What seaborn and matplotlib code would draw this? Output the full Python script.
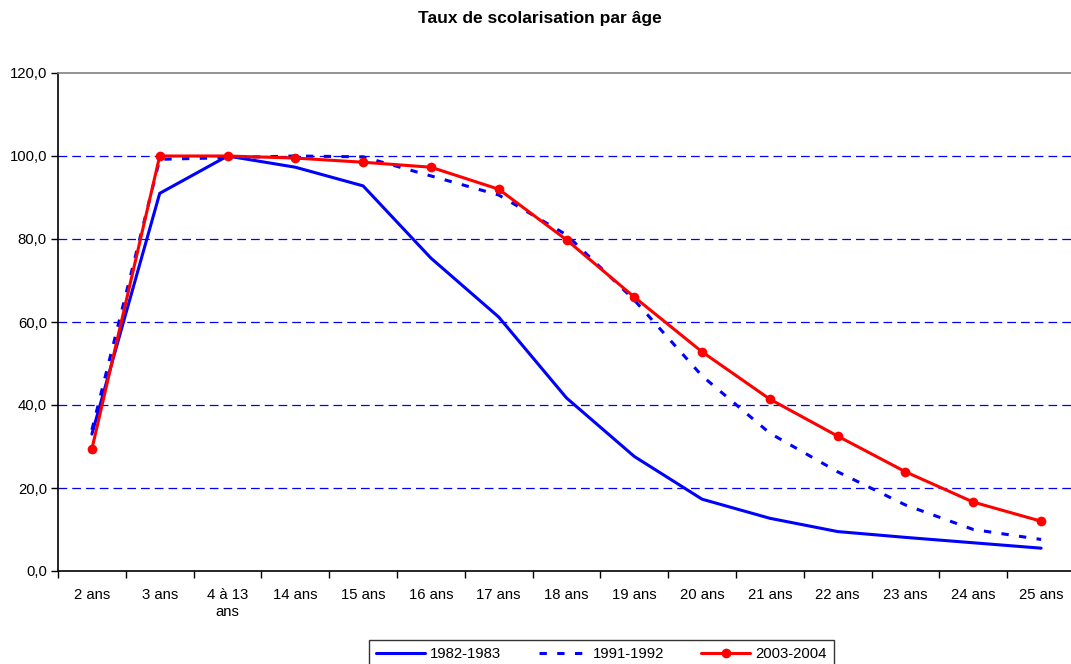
import numpy as np
import pandas as pd
import matplotlib
matplotlib.use("Agg")
import matplotlib.pyplot as plt
from matplotlib.ticker import FixedLocator, FuncFormatter
import seaborn as sns

categories = ["2 ans", "3 ans", "4 à 13\nans", "14 ans", "15 ans", "16 ans", "17 ans",
              "18 ans", "19 ans", "20 ans", "21 ans", "22 ans", "23 ans", "24 ans", "25 ans"]
s1982 = [33.0, 91.0, 100.0, 97.3, 92.8, 75.4, 61.2, 41.7, 27.6, 17.3, 12.7, 9.5, 8.1, 6.8, 5.5]
s1991 = [34.0, 99.2, 99.6, 100.0, 99.8, 95.2, 90.6, 81.0, 65.3, 47.0, 33.2, 23.9, 15.9, 10.0, 7.6]
s2003 = [29.4, 100.0, 100.0, 99.5, 98.5, 97.3, 92.0, 79.8, 66.0, 52.8, 41.4, 32.5, 23.9, 16.6, 12.0]
series_names = ["1982-1983", "1991-1992", "2003-2004"]
title = "Taux de scolarisation par âge"
yticks = [0, 20, 40, 60, 80, 100, 120]

sns.set_theme(style="white")
plt.rcParams["font.family"] = ["Liberation Sans", "DejaVu Sans"]
plt.rcParams["text.color"] = "black"
plt.rcParams["xtick.color"] = "black"
plt.rcParams["ytick.color"] = "black"

x = np.arange(len(categories))
df = pd.DataFrame({"x": np.tile(x, 3),
                   "val": s1982 + s1991 + s2003,
                   "serie": np.repeat(series_names, len(categories))})

fig = plt.figure(figsize=(10.71, 6.64), dpi=100)
ax = fig.add_axes([58 / 1071, 93 / 664, (1075 - 58) / 1071, (571 - 73) / 664])

# gridlines
for v in [20, 40, 60, 80, 100]:
    ax.axhline(v, color="#0000FF", lw=0.9, ls=(0, (7, 4)), zorder=1)

d = df[df.serie == "1982-1983"]
sns.lineplot(data=d, x="x", y="val", ax=ax, color="#0000FF", lw=2.2,
             label="1982-1983", legend=False, zorder=3)
d = df[df.serie == "1991-1992"]
sns.lineplot(data=d, x="x", y="val", ax=ax, color="#0000FF", lw=2.2,
             label="1991-1992", legend=False, zorder=3)
ax.lines[-1].set_dashes((2.4, 3.4))
d = df[df.serie == "2003-2004"]
sns.lineplot(data=d, x="x", y="val", ax=ax, color="#FF0000", lw=2.2,
             marker="o", markersize=7, markeredgewidth=0,
             label="2003-2004", legend=False, zorder=4)

ax.set_xlim(-0.5, len(categories) - 0.5)
ax.set_ylim(0, 120)
ax.set_xticks(x)
ax.set_xticklabels(categories, fontsize=10.7, color="black", linespacing=1.3)
ax.xaxis.set_minor_locator(FixedLocator(np.arange(-0.5, len(categories), 1.0)))
ax.tick_params(axis="x", which="major", length=0, pad=12)
ax.tick_params(axis="x", which="minor", length=5, width=1, color="black", direction="out", bottom=True)
ax.set_yticks(yticks)
ax.yaxis.set_major_formatter(FuncFormatter(lambda v, p: f"{v:.1f}".replace(".", ",")))
ax.tick_params(axis="y", length=5, width=1, color="black", direction="out", left=True,
               labelsize=10.7, labelcolor="black", pad=3)
ax.set_xlabel("")
ax.set_ylabel("")

for s in ["left", "bottom"]:
    ax.spines[s].set_color("black")
    ax.spines[s].set_linewidth(1.2)
ax.spines["top"].set_color("#808080")
ax.spines["top"].set_linewidth(1.2)
ax.spines["right"].set_visible(False)

fig.text(540 / 1071, 1 - 18 / 664, title, ha="center", va="center", fontsize=12.5,
         fontweight="bold", color="black")

handles, labels = ax.get_legend_handles_labels()
leg = fig.legend(handles, labels, loc="upper center", bbox_to_anchor=(601.5 / 1071, 1 - 640 / 664),
                 ncol=3, frameon=True, fancybox=False, edgecolor="black", fontsize=10.7,
                 handlelength=3.3, columnspacing=2.5, borderpad=0.5, handletextpad=0.35,
                 borderaxespad=0)
leg.get_frame().set_linewidth(1.0)
for t in leg.get_texts():
    t.set_color("black")

fig.savefig("out.png", dpi=100)
